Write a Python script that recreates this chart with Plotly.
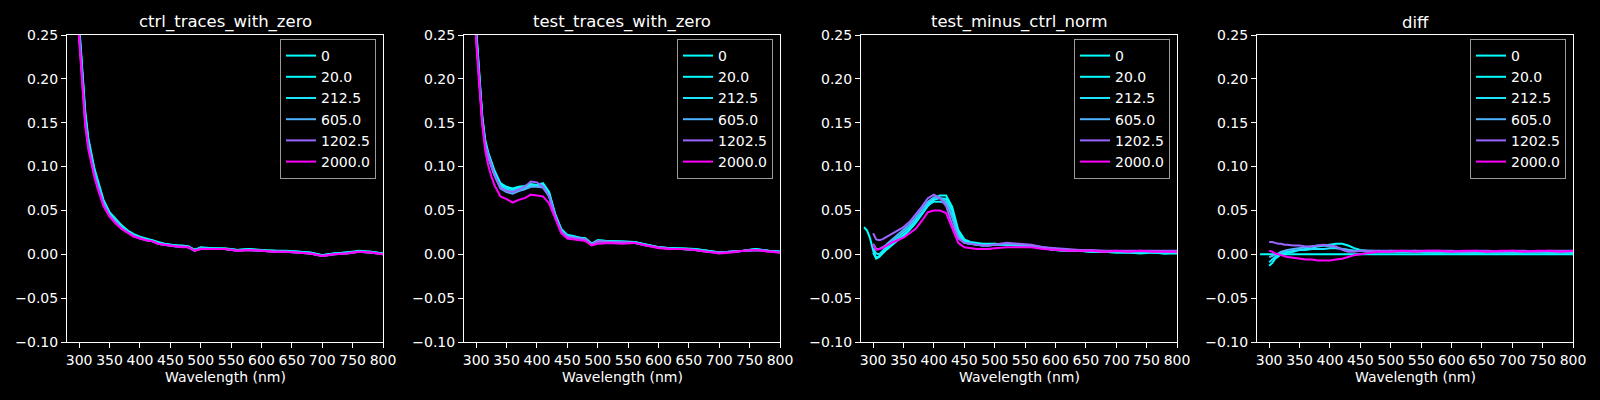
import plotly.graph_objects as go

# wavelength grid (nm)
wavelength = [285, 290, 295, 300, 305, 310, 315, 320, 325, 330,
              340, 350, 360, 370, 380, 390, 400, 410, 420, 430, 440, 450, 460, 470, 480, 490, 500,
              520, 540, 560, 580, 600, 620, 640, 660, 680, 700, 720, 740, 760, 780, 800]

concentrations = ["0", "20.0", "212.5", "605.0", "1202.5", "2000.0"]
panel_titles = ["ctrl_traces_with_zero", "test_traces_with_zero", "test_minus_ctrl_norm", "diff"]

# ctrl_traces_with_zero
ctrl_0 = [0.60, 0.46, 0.34, 0.262, 0.206, 0.163, 0.133, 0.113, 0.098, 0.086,
          0.062, 0.048, 0.040, 0.033, 0.027, 0.023, 0.020, 0.018, 0.016, 0.014, 0.012, 0.011, 0.010, 0.010, 0.009, 0.005, 0.008,
          0.007, 0.007, 0.005, 0.006, 0.005, 0.004, 0.004, 0.003, 0.002, -0.001, 0.001, 0.002, 0.004, 0.003, 0.001]
ctrl_20 = [0.59, 0.45, 0.335, 0.258, 0.203, 0.160, 0.130, 0.111, 0.096, 0.084,
           0.061, 0.047, 0.039, 0.032, 0.026, 0.022, 0.019, 0.017, 0.016, 0.013, 0.012, 0.011, 0.010, 0.009, 0.009, 0.005, 0.007,
           0.007, 0.006, 0.005, 0.006, 0.004, 0.004, 0.003, 0.003, 0.002, -0.001, 0.001, 0.002, 0.003, 0.003, 0.001]
ctrl_212 = [0.58, 0.44, 0.33, 0.255, 0.200, 0.157, 0.128, 0.109, 0.094, 0.082,
            0.059, 0.046, 0.038, 0.031, 0.026, 0.022, 0.019, 0.017, 0.015, 0.013, 0.011, 0.010, 0.010, 0.009, 0.008, 0.005, 0.007,
            0.006, 0.006, 0.005, 0.005, 0.004, 0.004, 0.003, 0.003, 0.001, -0.001, 0.001, 0.002, 0.003, 0.002, 0.001]
ctrl_605 = [0.57, 0.43, 0.325, 0.252, 0.197, 0.154, 0.126, 0.107, 0.092, 0.080,
            0.058, 0.045, 0.037, 0.030, 0.025, 0.021, 0.019, 0.016, 0.015, 0.012, 0.011, 0.010, 0.009, 0.009, 0.008, 0.004, 0.007,
            0.006, 0.006, 0.004, 0.005, 0.004, 0.003, 0.003, 0.002, 0.001, -0.002, 0.000, 0.001, 0.003, 0.002, 0.000]
ctrl_1202 = [0.56, 0.42, 0.32, 0.248, 0.193, 0.150, 0.123, 0.105, 0.090, 0.078,
             0.057, 0.044, 0.036, 0.029, 0.025, 0.021, 0.018, 0.016, 0.015, 0.012, 0.011, 0.010, 0.009, 0.009, 0.008, 0.004, 0.006,
             0.006, 0.006, 0.004, 0.005, 0.004, 0.003, 0.003, 0.002, 0.001, -0.002, 0.000, 0.001, 0.003, 0.002, 0.000]
ctrl_2000 = [0.55, 0.41, 0.315, 0.245, 0.190, 0.146, 0.120, 0.103, 0.088, 0.076,
             0.055, 0.043, 0.035, 0.029, 0.024, 0.020, 0.018, 0.016, 0.015, 0.012, 0.011, 0.010, 0.009, 0.008, 0.008, 0.004, 0.006,
             0.006, 0.006, 0.004, 0.005, 0.004, 0.003, 0.003, 0.002, 0.001, -0.002, 0.000, 0.001, 0.003, 0.002, 0.000]

# test_traces_with_zero
test_0 = [0.62, 0.47, 0.34, 0.258, 0.204, 0.158, 0.130, 0.116, 0.106, 0.096,
          0.081, 0.077, 0.075, 0.077, 0.078, 0.080, 0.079, 0.081, 0.071, 0.046, 0.029, 0.022, 0.021, 0.019, 0.018, 0.012, 0.016,
          0.015, 0.015, 0.014, 0.011, 0.008, 0.007, 0.007, 0.006, 0.004, 0.002, 0.003, 0.004, 0.006, 0.004, 0.003]
test_20 = [0.61, 0.46, 0.335, 0.255, 0.201, 0.156, 0.128, 0.114, 0.104, 0.094,
           0.079, 0.076, 0.074, 0.076, 0.077, 0.079, 0.079, 0.080, 0.070, 0.045, 0.028, 0.022, 0.020, 0.019, 0.018, 0.012, 0.016,
           0.015, 0.014, 0.014, 0.011, 0.008, 0.007, 0.006, 0.006, 0.004, 0.002, 0.003, 0.004, 0.006, 0.004, 0.003]
test_212 = [0.60, 0.45, 0.33, 0.252, 0.198, 0.154, 0.126, 0.112, 0.102, 0.092,
            0.077, 0.074, 0.072, 0.074, 0.075, 0.078, 0.078, 0.078, 0.068, 0.044, 0.027, 0.021, 0.020, 0.018, 0.017, 0.011, 0.015,
            0.015, 0.014, 0.014, 0.011, 0.008, 0.007, 0.006, 0.005, 0.004, 0.002, 0.003, 0.004, 0.005, 0.004, 0.003]
test_605 = [0.59, 0.44, 0.325, 0.250, 0.196, 0.152, 0.124, 0.110, 0.100, 0.090,
            0.075, 0.071, 0.069, 0.072, 0.074, 0.077, 0.077, 0.076, 0.066, 0.043, 0.026, 0.020, 0.019, 0.018, 0.017, 0.011, 0.015,
            0.014, 0.014, 0.013, 0.010, 0.008, 0.006, 0.006, 0.005, 0.003, 0.002, 0.003, 0.004, 0.005, 0.004, 0.002]
test_1202 = [0.58, 0.44, 0.32, 0.248, 0.195, 0.151, 0.124, 0.111, 0.101, 0.091,
             0.076, 0.072, 0.071, 0.074, 0.077, 0.083, 0.082, 0.077, 0.066, 0.043, 0.026, 0.020, 0.019, 0.018, 0.017, 0.011, 0.015,
             0.014, 0.014, 0.013, 0.010, 0.008, 0.006, 0.006, 0.005, 0.003, 0.002, 0.003, 0.004, 0.005, 0.004, 0.002]
test_2000 = [0.57, 0.43, 0.315, 0.242, 0.190, 0.147, 0.118, 0.101, 0.089, 0.079,
             0.066, 0.063, 0.059, 0.062, 0.064, 0.068, 0.067, 0.066, 0.058, 0.040, 0.024, 0.018, 0.017, 0.016, 0.015, 0.010, 0.012,
             0.013, 0.012, 0.013, 0.010, 0.007, 0.006, 0.006, 0.005, 0.003, 0.001, 0.002, 0.004, 0.005, 0.003, 0.002]

# test_minus_ctrl_norm
norm_0 = [0.031, 0.027, 0.018, 0.004, -0.004, -0.002, 0.002, 0.005, 0.008, 0.011,
          0.016, 0.020, 0.028, 0.036, 0.046, 0.058, 0.064, 0.067, 0.067, 0.054, 0.028, 0.017, 0.014, 0.013, 0.012, 0.012, 0.012,
          0.011, 0.011, 0.010, 0.007, 0.005, 0.004, 0.004, 0.003, 0.003, 0.002, 0.002, 0.001, 0.002, 0.001, 0.001]
norm_20 = [None, None, None, 0.002, -0.005, -0.003, 0.001, 0.004, 0.007, 0.010,
           0.015, 0.021, 0.028, 0.036, 0.045, 0.055, 0.062, 0.064, 0.063, 0.050, 0.025, 0.015, 0.013, 0.012, 0.011, 0.011, 0.012,
           0.011, 0.010, 0.010, 0.007, 0.005, 0.004, 0.004, 0.003, 0.003, 0.002, 0.002, 0.002, 0.002, 0.001, 0.002]
norm_212 = [None, None, None, 0.007, 0.001, 0.000, 0.004, 0.007, 0.010, 0.013,
            0.018, 0.024, 0.031, 0.039, 0.048, 0.056, 0.060, 0.060, 0.058, 0.045, 0.022, 0.013, 0.012, 0.011, 0.010, 0.010, 0.011,
            0.011, 0.010, 0.010, 0.007, 0.005, 0.004, 0.004, 0.003, 0.003, 0.003, 0.002, 0.002, 0.003, 0.002, 0.002]
norm_605 = [None, None, None, 0.012, 0.006, 0.006, 0.008, 0.010, 0.013, 0.016,
            0.021, 0.027, 0.034, 0.042, 0.051, 0.060, 0.065, 0.064, 0.060, 0.042, 0.020, 0.013, 0.012, 0.011, 0.010, 0.010, 0.011,
            0.012, 0.011, 0.010, 0.008, 0.006, 0.005, 0.004, 0.004, 0.003, 0.003, 0.003, 0.003, 0.003, 0.003, 0.003]
norm_1202 = [None, None, None, 0.024, 0.017, 0.016, 0.017, 0.019, 0.021, 0.023,
             0.027, 0.031, 0.037, 0.045, 0.054, 0.064, 0.068, 0.064, 0.055, 0.034, 0.018, 0.013, 0.012, 0.011, 0.010, 0.010, 0.011,
             0.013, 0.012, 0.011, 0.008, 0.007, 0.006, 0.005, 0.005, 0.004, 0.004, 0.004, 0.004, 0.004, 0.004, 0.004]
norm_2000 = [None, None, None, 0.011, 0.005, 0.006, 0.007, 0.009, 0.011, 0.013,
             0.016, 0.019, 0.024, 0.029, 0.038, 0.048, 0.050, 0.050, 0.047, 0.030, 0.013, 0.008, 0.007, 0.006, 0.006, 0.006, 0.007,
             0.008, 0.008, 0.008, 0.006, 0.005, 0.004, 0.004, 0.004, 0.003, 0.004, 0.003, 0.004, 0.003, 0.003, 0.003]

# diff
diff_0 = [0.0, 0.0, 0.0, 0.0, 0.0, 0.0, 0.0, 0.0, 0.0, 0.0,
          0.0, 0.0, 0.0, 0.0, 0.0, 0.0, 0.0, 0.0, 0.0, 0.0, 0.0, 0.0, 0.0, 0.0, 0.0, 0.0, 0.0,
          0.0, 0.0, 0.0, 0.0, 0.0, 0.0, 0.0, 0.0, 0.0, 0.0, 0.0, 0.0, 0.0, 0.0, 0.0]
diff_20 = [None, None, None, -0.013, -0.010, -0.005, -0.002, 0.000, 0.001, 0.002,
           0.003, 0.005, 0.006, 0.007, 0.009, 0.010, 0.011, 0.012, 0.012, 0.010, 0.007, 0.005, 0.004, 0.004, 0.003, 0.003, 0.003,
           0.003, 0.003, 0.002, 0.002, 0.002, 0.002, 0.002, 0.002, 0.002, 0.002, 0.002, 0.002, 0.002, 0.002, 0.002]
diff_212 = [None, None, None, -0.009, -0.006, -0.002, 0.000, 0.002, 0.003, 0.003,
            0.004, 0.005, 0.005, 0.006, 0.006, 0.006, 0.007, 0.007, 0.006, 0.005, 0.004, 0.004, 0.003, 0.003, 0.003, 0.003, 0.003,
            0.003, 0.003, 0.003, 0.002, 0.003, 0.002, 0.002, 0.003, 0.002, 0.002, 0.002, 0.003, 0.002, 0.002, 0.002]
diff_605 = [None, None, None, -0.003, -0.002, 0.000, 0.001, 0.003, 0.004, 0.005,
            0.006, 0.007, 0.008, 0.009, 0.010, 0.010, 0.009, 0.008, 0.006, 0.005, 0.004, 0.004, 0.004, 0.003, 0.004, 0.003, 0.004,
            0.003, 0.004, 0.003, 0.003, 0.003, 0.003, 0.003, 0.003, 0.003, 0.003, 0.003, 0.003, 0.003, 0.003, 0.003]
diff_1202 = [None, None, None, 0.014, 0.014, 0.013, 0.012, 0.012, 0.011, 0.011,
             0.010, 0.010, 0.009, 0.009, 0.010, 0.011, 0.010, 0.009, 0.005, 0.003, 0.003, 0.004, 0.004, 0.004, 0.004, 0.004, 0.004,
             0.004, 0.004, 0.004, 0.004, 0.004, 0.003, 0.004, 0.004, 0.003, 0.004, 0.004, 0.003, 0.004, 0.004, 0.004]
diff_2000 = [None, None, None, 0.004, 0.003, 0.001, 0.000, -0.001, -0.002, -0.003,
             -0.004, -0.005, -0.006, -0.006, -0.007, -0.007, -0.007, -0.006, -0.005, -0.003, -0.001, 0.000, 0.001, 0.002, 0.003, 0.003, 0.003,
             0.004, 0.003, 0.004, 0.004, 0.003, 0.004, 0.004, 0.003, 0.004, 0.004, 0.003, 0.004, 0.004, 0.003, 0.004]

panels = [
    [ctrl_0, ctrl_20, ctrl_212, ctrl_605, ctrl_1202, ctrl_2000],
    [test_0, test_20, test_212, test_605, test_1202, test_2000],
    [norm_0, norm_20, norm_212, norm_605, norm_1202, norm_2000],
    [diff_0, diff_20, diff_212, diff_605, diff_1202, diff_2000],
]


def cool(c):
    # matplotlib "cool" colormap, scaled 0..2000
    t = float(c) / 2000.0
    return "rgb(%d,%d,255)" % (round(255 * t), round(255 * (1 - t)))


W, H = 1600, 400
lefts = [67, 464, 861, 1257]
pw = 316
top_px, bot_px = 35, 342
font = "DejaVu Sans"

fig = go.Figure()
layout = dict(
    width=W, height=H,
    margin=dict(l=0, r=0, t=0, b=0, autoexpand=False),
    paper_bgcolor="black", plot_bgcolor="black",
    font=dict(family=font, color="white", size=14),
    annotations=[],
)

for i, series in enumerate(panels):
    sfx = "" if i == 0 else str(i + 1)
    leg = "legend" if i == 0 else "legend" + str(i + 1)
    x0 = lefts[i] / W
    x1 = (lefts[i] + pw) / W
    for name, vals in zip(concentrations, series):
        fig.add_trace(go.Scatter(
            x=wavelength, y=vals, mode="lines", name=name,
            line=dict(color=cool(name), width=2),
            xaxis="x" + sfx, yaxis="y" + sfx, legend=leg,
        ))
    layout["xaxis" + sfx] = dict(
        domain=[x0, x1], anchor="y" + sfx, range=[280, 800],
        tick0=300, dtick=50, ticks="outside", ticklen=5, tickcolor="white",
        showline=True, linecolor="white", linewidth=1, mirror=True,
        showgrid=False, zeroline=False, tickfont=dict(size=14),
    )
    layout["yaxis" + sfx] = dict(
        domain=[1 - bot_px / H, 1 - top_px / H], anchor="x" + sfx, range=[-0.10, 0.25],
        tick0=0, dtick=0.05, tickformat=".2f", ticks="outside", ticklen=5, tickcolor="white",
        showline=True, linecolor="white", linewidth=1, mirror=True,
        showgrid=False, zeroline=False, tickfont=dict(size=14),
    )
    layout[leg] = dict(
        x=(lefts[i] + pw - 7) / W, xanchor="right",
        y=1 - (top_px + 4) / H, yanchor="top",
        bgcolor="rgba(0,0,0,0.8)", bordercolor="#999999", borderwidth=1,
        font=dict(size=14, color="white"),
    )
    layout["annotations"].append(dict(
        text=panel_titles[i], x=(x0 + x1) / 2, y=1 - 22 / H, xref="paper", yref="paper",
        showarrow=False, font=dict(size=16.5), xanchor="center", yanchor="middle",
    ))
    layout["annotations"].append(dict(
        text="Wavelength (nm)", x=(x0 + x1) / 2, y=1 - 377 / H, xref="paper", yref="paper",
        showarrow=False, font=dict(size=14), xanchor="center", yanchor="middle",
    ))

fig.update_layout(**layout)
fig.write_html("out.html", config={"displayModeBar": False},
               post_script="document.body.style.margin='0';document.body.style.overflow='hidden';")
